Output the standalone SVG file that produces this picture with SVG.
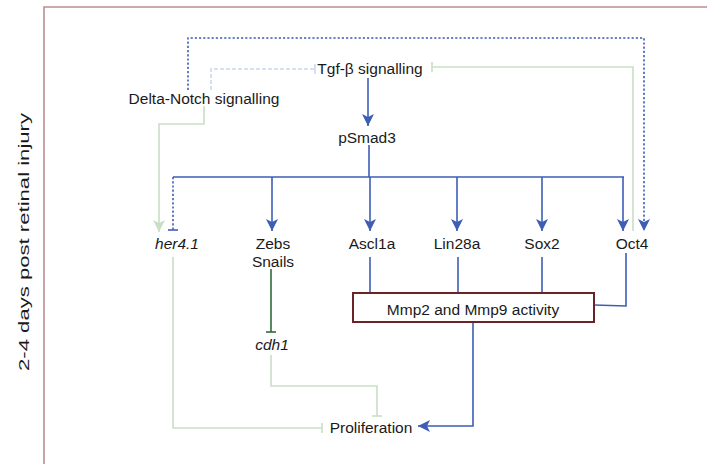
<svg xmlns="http://www.w3.org/2000/svg" width="707" height="464" viewBox="0 0 707 464">
<style>
text{font-family:"Liberation Sans",Arial,sans-serif;font-size:15.5px;fill:#1a1a1a;text-anchor:middle;dominant-baseline:central}
.it{font-style:italic}
.b{fill:none;stroke:#3d5eb4;stroke-width:1.6}
.bd{fill:none;stroke:#3d5eb4;stroke-width:1.6;stroke-dasharray:2.2 2}
.lg{fill:none;stroke:#c9dfc5;stroke-width:1.6}
.ld{fill:none;stroke:#cbd8ec;stroke-width:1.6;stroke-dasharray:4 2}
.dg{fill:none;stroke:#2f6b35;stroke-width:1.6}
</style>
<defs>
<marker id="ab" viewBox="0 0 12 12" refX="12" refY="6" markerWidth="12" markerHeight="12" markerUnits="userSpaceOnUse" orient="auto"><path d="M0,0 L12,6 L0,12 L3,6 z" fill="#3d5eb4"/></marker>
<marker id="ag" viewBox="0 0 12 12" refX="12" refY="6" markerWidth="12" markerHeight="12" markerUnits="userSpaceOnUse" orient="auto"><path d="M0,0 L12,6 L0,12 L3,6 z" fill="#c9dfc5"/></marker>
<marker id="tb" viewBox="-2 -6 4 12" refX="0" refY="0" markerWidth="4" markerHeight="12" markerUnits="userSpaceOnUse" orient="auto"><path d="M0,-5 L0,5" stroke="#3d5eb4" stroke-width="1.6"/></marker>
<marker id="tg" viewBox="-2 -6 4 12" refX="0" refY="0" markerWidth="4" markerHeight="12" markerUnits="userSpaceOnUse" orient="auto"><path d="M0,-5 L0,5" stroke="#c9dfc5" stroke-width="1.6"/></marker>
<marker id="tdg" viewBox="-2 -6 4 12" refX="0" refY="0" markerWidth="4" markerHeight="12" markerUnits="userSpaceOnUse" orient="auto"><path d="M0,-5 L0,5" stroke="#2f6b35" stroke-width="1.6"/></marker>
<marker id="tl" viewBox="-2 -6 4 12" refX="0" refY="0" markerWidth="4" markerHeight="12" markerUnits="userSpaceOnUse" orient="auto"><path d="M0,-5 L0,5" stroke="#cbd8ec" stroke-width="1.6"/></marker>
</defs>
<g id="frame">
<path d="M44,464 L44,7 L707,7" fill="none" stroke="#b98e93" stroke-width="1.6"/>
<text transform="translate(23,242) rotate(-90)" font-size="16" textLength="258" lengthAdjust="spacingAndGlyphs">2-4 days post retinal injury</text>
</g>
<g id="connectors">
<path class="bd" d="M188,90 L188,38 L644,38 L644,231" marker-end="url(#ab)"/>
<path class="ld" d="M211,90 L211,69 L315,69" marker-end="url(#tl)"/>
<path class="lg" d="M633,231 L633,67 L432,67" marker-end="url(#tg)"/>
<path class="lg" d="M204,106 L204,124 L159,124 L159,232" marker-end="url(#ag)"/>
<path class="b" d="M368,78 L368,126" marker-end="url(#ab)"/>
<path class="b" d="M369,145 L369,177"/>
<path class="b" d="M173,177 L624,177"/>
<path class="bd" d="M173,177 L173,230" marker-end="url(#tb)"/>
<path class="b" d="M272,177 L272,231" marker-end="url(#ab)"/>
<path class="b" d="M370,177 L370,231" marker-end="url(#ab)"/>
<path class="b" d="M457,177 L457,231" marker-end="url(#ab)"/>
<path class="b" d="M542,177 L542,231" marker-end="url(#ab)"/>
<path class="b" d="M623,177 L623,231" marker-end="url(#ab)"/>
<path class="b" d="M370,257 L370,293"/>
<path class="b" d="M458,257 L458,293"/>
<path class="b" d="M542,257 L542,293"/>
<path class="b" d="M626,253 L626,306 L594,305"/>
<path class="b" d="M473,322 L473,426 L418,426" marker-end="url(#ab)"/>
<path class="dg" d="M271,269 L271,332" marker-end="url(#tdg)"/>
<path class="lg" d="M271,355 L271,386 L377,386 L377,416" marker-end="url(#tg)"/>
<path class="lg" d="M173,257 L173,428 L322,428" marker-end="url(#tg)"/>
</g>
<g id="tgf"><text x="370" y="68">Tgf-β signalling</text></g>
<g id="delta-notch"><text x="204" y="98">Delta-Notch signalling</text></g>
<g id="psmad3"><text x="367" y="137">pSmad3</text></g>
<g id="her41"><text class="it" x="177" y="243">her4.1</text></g>
<g id="zebs"><text x="273" y="243">Zebs</text><text x="273" y="261">Snails</text></g>
<g id="ascl1a"><text x="372" y="243">Ascl1a</text></g>
<g id="lin28a"><text x="457" y="243">Lin28a</text></g>
<g id="sox2"><text x="542" y="243">Sox2</text></g>
<g id="oct4"><text x="632" y="243">Oct4</text></g>
<g id="mmp"><rect x="353" y="293" width="241" height="29" fill="#fff" stroke="#6a2428" stroke-width="2"/><text x="473" y="309">Mmp2 and Mmp9 activity</text></g>
<g id="cdh1"><text class="it" x="272" y="344">cdh1</text></g>
<g id="proliferation"><text x="371" y="427">Proliferation</text></g>
</svg>
